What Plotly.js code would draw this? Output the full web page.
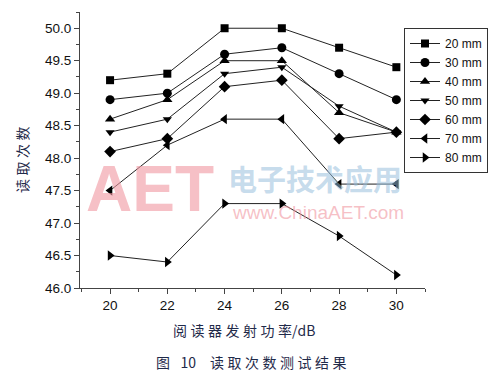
<!DOCTYPE html>
<html><head><meta charset="utf-8">
<script src="https://cdn.plot.ly/plotly-3.0.1.min.js"></script>
<style>html,body{margin:0;padding:0;background:#fff}#c{width:501px;height:378px}</style>
</head><body><div id="c"></div>
<script>
const power = [20, 22, 24, 26, 28, 30];
const seriesNames = ["20 mm", "30 mm", "40 mm", "50 mm", "60 mm", "70 mm", "80 mm"];
const s20 = [49.2, 49.3, 50.0, 50.0, 49.7, 49.4];
const s30 = [48.9, 49.0, 49.6, 49.7, 49.3, 48.9];
const s40 = [48.6, 48.9, 49.5, 49.5, 48.7, 48.4];
const s50 = [48.4, 48.6, 49.3, 49.4, 48.8, 48.4];
const s60 = [48.1, 48.3, 49.1, 49.2, 48.3, 48.4];
const s70 = [47.5, 48.2, 48.6, 48.6, 47.6, 47.6];
const s80 = [46.5, 46.4, 47.3, 47.3, 46.8, 46.2];
const yTicks = [46.0, 46.5, 47.0, 47.5, 48.0, 48.5, 49.0, 49.5, 50.0];
const yTitle = "读\u2005取\u2005次\u2005数";
const xTitle = "阅\u2005读\u2005器\u2005发\u2005射\u2005功\u2005率/dB";
const caption = "图\u2002\u200510\u2002\u2002读\u2005取\u2005次\u2005数\u2005测\u2005试\u2005结\u2005果";
const symbols = ["square", "circle", "triangle-up", "triangle-down", "diamond", "triangle-left", "triangle-right"];
const sizes = [8, 9, 9, 8, 9, 9, 9];
const allSeries = [s20, s30, s40, s50, s60, s70, s80];

const traces = allSeries.map((ys, i) => ({
  x: power, y: ys, name: seriesNames[i], type: "scatter", mode: "lines+markers",
  line: {color: "#222", width: 1},
  marker: {symbol: symbols[i], size: sizes[i], color: "#000"}
}));

const cjk = '"Noto Sans CJK SC", sans-serif';
const navy = "#1f2a4a";
const px = v => (v - 80) / 345;
const py = v => (288 - v) / 276;
const layout = {
  width: 501, height: 378,
  margin: {l: 80, r: 76, t: 12, b: 90},
  paper_bgcolor: "#fff", plot_bgcolor: "rgba(0,0,0,0)",
  showlegend: true,
  font: {family: "Liberation Sans, Arial, sans-serif", size: 12, color: "#111"},
  xaxis: {
    range: [18.95, 31.0], tickvals: power, ticktext: power.map(String),
    showgrid: false, zeroline: false, showline: true, linecolor: "#444", linewidth: 1,
    ticks: "outside", ticklen: 5, tickcolor: "#444",
    minor: {dtick: 1, tick0: 19, ticks: "outside", ticklen: 3, tickcolor: "#444"},
    tickfont: {size: 13.5}
  },
  yaxis: {
    range: [46, 50.25], tickvals: yTicks, ticktext: yTicks.map(v => v.toFixed(1)),
    showgrid: false, zeroline: false, showline: true, linecolor: "#444", linewidth: 1,
    ticks: "outside", ticklen: 5, tickcolor: "#444",
    minor: {dtick: 0.25, tick0: 46, ticks: "outside", ticklen: 3, tickcolor: "#444"},
    tickfont: {size: 13.5}
  },
  legend: {
    x: px(404), y: py(28), xanchor: "left", yanchor: "top",
    bordercolor: "#333", borderwidth: 1, bgcolor: "#fff",
    font: {size: 12}, itemwidth: 30, tracegroupgap: 0
  },
  annotations: [
    {text: "<b>AET</b>", xref: "paper", yref: "paper", x: px(150), y: py(189), xanchor: "center", yanchor: "middle",
     showarrow: false, font: {family: "Liberation Sans, Arial", size: 64, color: "rgba(240,150,160,0.6)"}},
    {text: "<b>电子技术应用</b>", xref: "paper", yref: "paper", x: px(315), y: py(178), xanchor: "center", yanchor: "middle",
     showarrow: false, font: {family: cjk, size: 29, color: "rgba(150,190,220,0.55)"}},
    {text: "www.ChinaAET.com", xref: "paper", yref: "paper", x: px(318), y: py(212), xanchor: "center", yanchor: "middle",
     showarrow: false, font: {family: "Liberation Sans, Arial", size: 19, color: "rgba(240,150,160,0.6)"}},
    {text: yTitle, xref: "paper", yref: "paper", x: px(22), y: py(160), xanchor: "center", yanchor: "middle",
     textangle: -90, showarrow: false, font: {family: cjk, size: 14, color: navy}},
    {text: xTitle, xref: "paper", yref: "paper", x: px(244), y: py(330), xanchor: "center", yanchor: "middle",
     showarrow: false, font: {family: cjk, size: 14, color: navy}},
    {text: caption, xref: "paper", yref: "paper", x: px(251), y: py(362), xanchor: "center", yanchor: "middle",
     showarrow: false, font: {family: cjk, size: 14, color: navy}}
  ]
};
Plotly.newPlot("c", traces, layout, {displayModeBar: false, staticPlot: true});
</script></body></html>
